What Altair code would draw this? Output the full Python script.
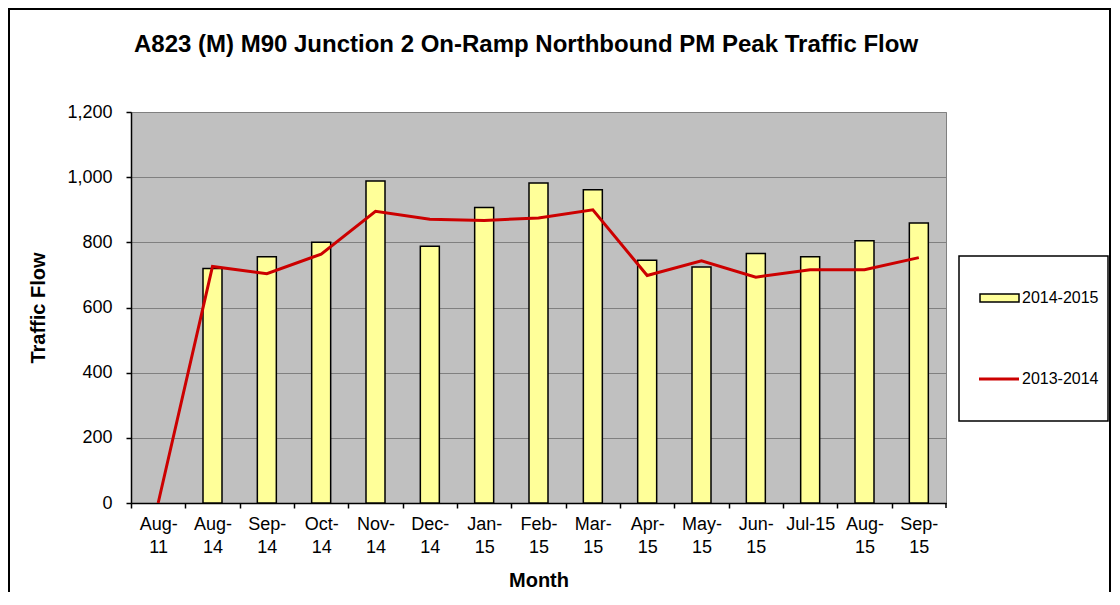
import altair as alt
import pandas as pd

months = ["Aug-11", "Aug-14", "Sep-14", "Oct-14", "Nov-14", "Dec-14", "Jan-15",
          "Feb-15", "Mar-15", "Apr-15", "May-15", "Jun-15", "Jul-15", "Aug-15", "Sep-15"]
flow_2014_2015 = [None, 720, 756, 800, 988, 788, 907, 982, 961, 745, 724, 766, 756, 805, 859]
flow_2013_2014 = [0, 726, 704, 764, 895, 871, 867, 875, 900, 698, 743, 693, 716, 716, 753]
series_names = ["2014-2015", "2013-2014"]
y_ticks = [0, 200, 400, 600, 800, 1000, 1200]
chart_title = "A823 (M) M90 Junction 2 On-Ramp Northbound PM Peak Traffic Flow"

FONT = "Liberation Sans"
W, H = 815, 391
BAND = W / len(months)
BAR_FILL = "#FFFF99"
LINE_COLOR = "#CC0000"

bars_df = pd.DataFrame({"Month": months, "Flow": flow_2014_2015, "Series": series_names[0]}).dropna()
line_df = pd.DataFrame({"Month": months, "Flow": flow_2013_2014, "Series": series_names[1]})

x_enc = alt.X(
    "Month:N", sort=months,
    scale=alt.Scale(domain=months, paddingInner=0, paddingOuter=0),
    axis=alt.Axis(
        title="Month", labelAngle=0, labelFont=FONT, labelFontSize=18, labelColor="black",
        labelExpr="datum.value == 'Jul-15' ? datum.value : [slice(datum.value, 0, 4), slice(datum.value, 4)]",
        labelLineHeight=23, labelPadding=7, labelOffset=BAND / 2,
        tickSize=5, tickColor="black", tickWidth=1.5, tickOffset=-BAND / 2,
        domainColor="black", domainWidth=1.5, grid=False,
        titleFont=FONT, titleFontSize=20, titleFontWeight="bold", titleColor="black",
        titlePadding=14,
    ),
)
y_enc = alt.Y(
    "Flow:Q",
    scale=alt.Scale(domain=[0, 1200], nice=False),
    axis=alt.Axis(
        title="Traffic Flow", values=y_ticks, format=",d",
        labelFont=FONT, labelFontSize=18, labelColor="black", labelPadding=14,
        tickSize=5, tickColor="black", tickWidth=1.5, domainColor="black", domainWidth=1.5,
        grid=True, gridColor="#808080", gridWidth=1,
        titleFont=FONT, titleFontSize=20, titleFontWeight="bold", titleColor="black",
        titlePadding=18,
    ),
)

bars = alt.Chart(bars_df).mark_bar(size=19, stroke="black", strokeWidth=1.5, fill=BAR_FILL).encode(
    x=x_enc, y=y_enc,
)

line = alt.Chart(line_df).mark_line(strokeWidth=3, color=LINE_COLOR).encode(
    x=x_enc, y=y_enc,
)

one = alt.Data(values=[{"k": 1}])

# last x tick at the right end of the axis
end_tick = alt.Chart(one).mark_rule(color="black", strokeWidth=1.5).encode(
    x=alt.value(W), y=alt.value(H), y2=alt.value(H + 5))

# chart title
title_txt = alt.Chart(alt.Data(values=[{"t": chart_title}])).mark_text(
    font=FONT, fontSize=24, fontWeight="bold", color="black", align="center", baseline="middle"
).encode(x=alt.value(395), y=alt.value(-67), text="t:N")

# legend box and entries
box = alt.Chart(one).mark_rect(
    fill="white", stroke="black", strokeWidth=1.5
).encode(x=alt.value(828), x2=alt.value(977), y=alt.value(144), y2=alt.value(309))

leg1_sym = alt.Chart(alt.Data(values=[{"Series": series_names[0]}])).mark_rect(
    fill=BAR_FILL, stroke="black", strokeWidth=1.5
).encode(x=alt.value(849), x2=alt.value(888), y=alt.value(182), y2=alt.value(190))
leg1_txt = alt.Chart(alt.Data(values=[{"Series": series_names[0]}])).mark_text(
    font=FONT, fontSize=16, color="black", align="left", baseline="middle"
).encode(x=alt.value(891), y=alt.value(186), text="Series:N")

leg2_sym = alt.Chart(alt.Data(values=[{"Series": series_names[1]}])).mark_rule(
    color=LINE_COLOR, strokeWidth=3
).encode(x=alt.value(848), x2=alt.value(888), y=alt.value(267))
leg2_txt = alt.Chart(alt.Data(values=[{"Series": series_names[1]}])).mark_text(
    font=FONT, fontSize=16, color="black", align="left", baseline="middle"
).encode(x=alt.value(891), y=alt.value(267), text="Series:N")

# outer chart frame (left, top, right)
frame_left = alt.Chart(one).mark_rule(color="black", strokeWidth=2).encode(
    x=alt.value(-122), y=alt.value(-103), y2=alt.value(600))
frame_right = alt.Chart(one).mark_rule(color="black", strokeWidth=2).encode(
    x=alt.value(979), y=alt.value(-103), y2=alt.value(600))
frame_top = alt.Chart(one).mark_rule(color="black", strokeWidth=2).encode(
    x=alt.value(-123), x2=alt.value(980), y=alt.value(-103))

chart = alt.layer(
    bars, line, end_tick, title_txt, box, leg1_sym, leg1_txt, leg2_sym, leg2_txt,
    frame_left, frame_right, frame_top,
).properties(
    width=W, height=H,
    autosize=alt.AutoSizeParams(type="none"),
    padding={"left": 123, "top": 104, "right": 166, "bottom": 89},
    background="white",
).configure_view(fill="#C0C0C0", stroke="#808080")

chart.save("out.html", embed_options={"renderer": "svg", "actions": False})
